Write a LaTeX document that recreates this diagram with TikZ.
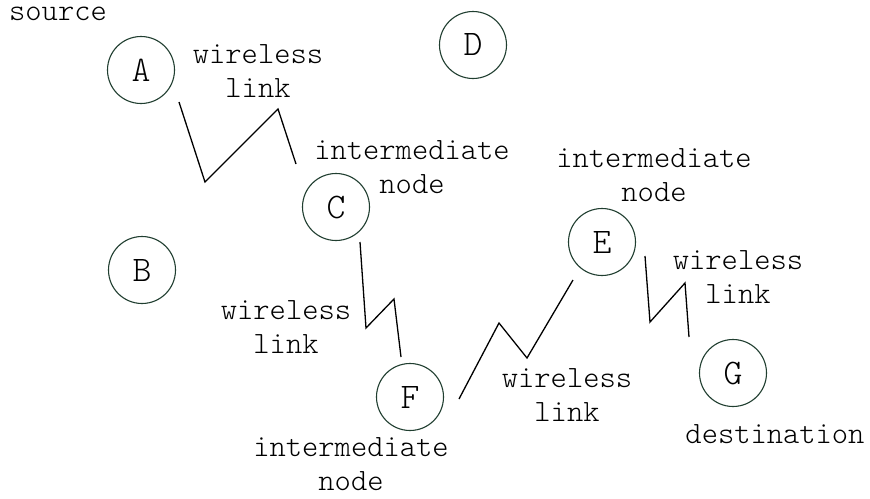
\documentclass[tikz,border=0pt]{standalone}
\usepackage{fontspec}
\setmonofont{Latin Modern Mono Light}
\definecolor{stationline}{RGB}{32,62,48}
\begin{document}
\begin{tikzpicture}[x=1pt,y=-1pt,
  station/.style={circle,draw=stationline,line width=1.1pt,minimum size=67pt,inner sep=0pt,
    font=\ttfamily\fontsize{36}{36}\selectfont},
  lbl/.style={font=\ttfamily\fontsize{31}{34}\selectfont,align=center,anchor=base,inner sep=0pt},
  radio/.style={draw=black,line width=1.3pt,line join=miter}]
\useasboundingbox (0,0) rectangle (870,498);

% stations
\node[station] (A) at (141,70)  {A};
\node[station] (B) at (142,270) {B};
\node[station] (C) at (336,207) {C};
\node[station] (D) at (473,45)  {D};
\node[station] (E) at (602,242) {E};
\node[station] (F) at (410,397) {F};
\node[station] (G) at (733,373) {G};

% labels (anchored at the baseline of their last line)
\node[lbl,text height=1.1ex] (tsrc) at (58,20) {source};
\node[lbl] (tac)  at (258,97) {wireless\\link};
\node[lbl] (tc)   at (412,193) {intermediate\\node};
\node[lbl] (tcf)  at (286,353) {wireless\\link};
\node[lbl] (tf)   at (351,490) {intermediate\\node};
\node[lbl] (tfe)  at (567,421) {wireless\\link};
\node[lbl] (te)   at (654,201) {intermediate\\node};
\node[lbl] (teg)  at (738,303) {wireless\\link};
\node[lbl] (tg)   at (775,443) {destination};

% wireless links (zigzag)
\coordinate (ac0) at (179,102); \coordinate (ac1) at (296,164);
\draw[radio] (ac0) -- (205,182) -- (278,109) -- (ac1);
\coordinate (cf0) at (360,242); \coordinate (cf1) at (401,357);
\draw[radio] (cf0) -- (366,328) -- (394,299) -- (cf1);
\coordinate (fe0) at (459,399); \coordinate (fe1) at (573,280);
\draw[radio] (fe0) -- (499,323) -- (527,358) -- (fe1);
\coordinate (eg0) at (645,256); \coordinate (eg1) at (689,337);
\draw[radio] (eg0) -- (650,322) -- (685,283) -- (eg1);
\end{tikzpicture}
\end{document}
